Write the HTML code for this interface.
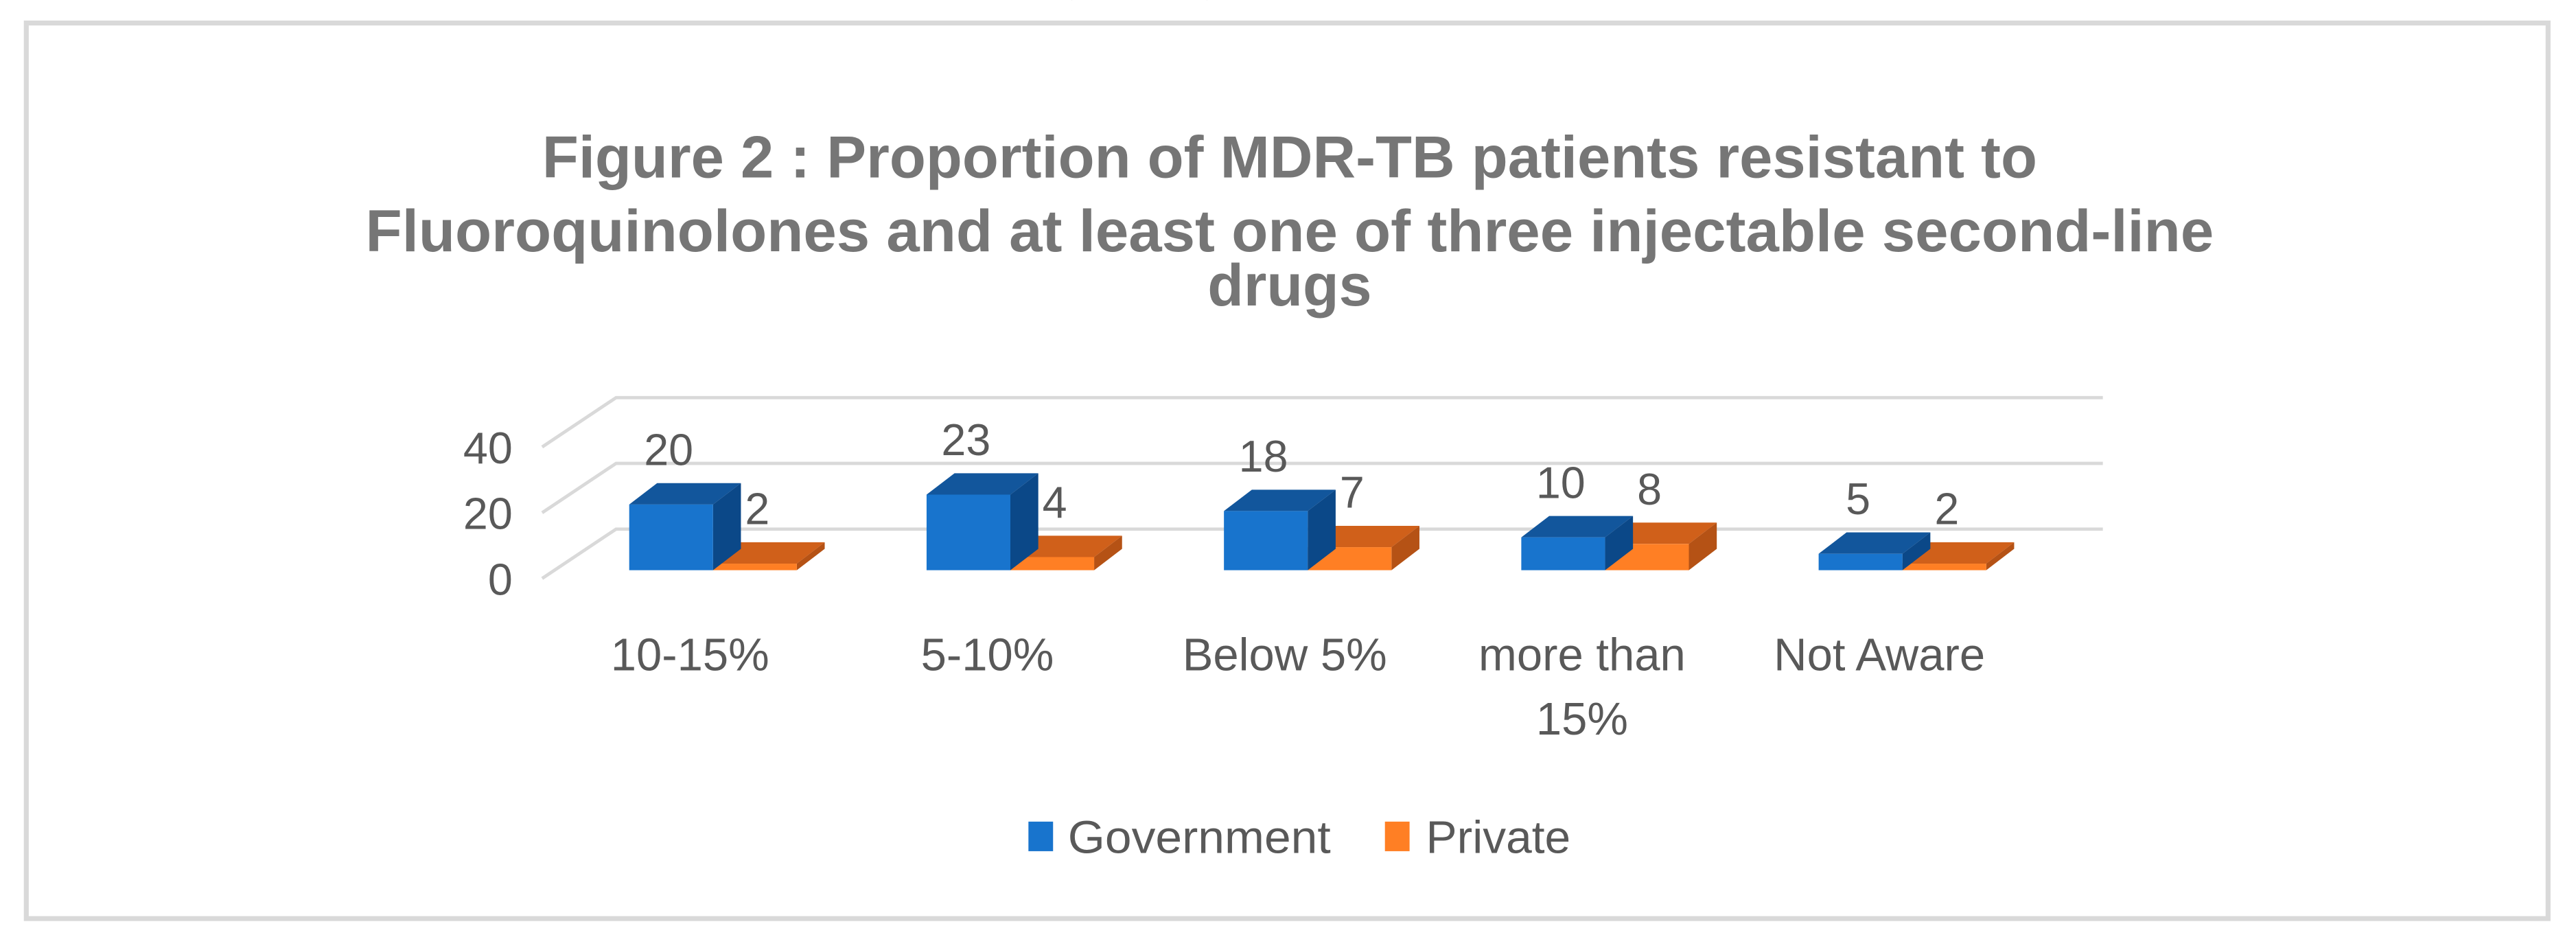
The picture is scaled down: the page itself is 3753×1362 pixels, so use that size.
<!DOCTYPE html>
<html><head><meta charset="utf-8"><style>
html,body{margin:0;padding:0;background:#fff;}
svg{display:block;}
text{font-family:"Liberation Sans",sans-serif;}
</style></head><body>
<svg id="chart" width="3753" height="1362" viewBox="0 0 1568 569" preserveAspectRatio="none" xmlns="http://www.w3.org/2000/svg">
<text x="330" y="-5" font-size="24" fill="#000" style="font-family:'Liberation Serif',serif">appropriate patient management (Figure 2)</text>
<rect x="16" y="14" width="1535" height="545" fill="#fff" stroke="#d9d9d9" stroke-width="3"/>
<g font-weight="bold" font-size="36" fill="#767676" text-anchor="middle">
<text x="785" y="108" textLength="910" lengthAdjust="spacingAndGlyphs">Figure 2 : Proportion of MDR-TB patients resistant to</text>
<text x="785" y="153" textLength="1125" lengthAdjust="spacingAndGlyphs">Fluoroquinolones and at least one of three injectable second-line</text>
<text x="785" y="186">drugs</text>
</g>
<g id="grid"></g>
<g id="bars"></g>
<g id="labels"></g>
<g font-size="28" fill="#595959">
<rect x="626" y="500" width="15" height="18" fill="#1874cd"/>
<text x="650" y="519" textLength="160" lengthAdjust="spacingAndGlyphs">Government</text>
<rect x="843" y="500" width="15" height="18" fill="#ff7f24"/>
<text x="868" y="519" textLength="88" lengthAdjust="spacingAndGlyphs">Private</text>
</g>
</svg>
<script>
const categories = [["10-15%"],["5-10%"],["Below 5%"],["more than","15%"],["Not Aware"]];
const government = [20, 23, 18, 10, 5];
const privateVals = [2, 4, 7, 8, 2];
const yTicks = [0, 20, 40];

const NS = "http://www.w3.org/2000/svg";
const front0 = 352, unit = 2, backDx = 45, backDy = -30;
const barBase = 347, bw = 51, dDx = 17, dDy = -13;
function yFront(v){ return front0 - v*unit; }
function groupX(i){ return 383 + i*181; }
function mk(tag, attrs, parent){ const e=document.createElementNS(NS,tag); for(const k in attrs) e.setAttribute(k,attrs[k]); parent.appendChild(e); return e; }

const grid = document.getElementById('grid');
yTicks.forEach(t=>{
  const y = yFront(t);
  const g = mk('g',{},grid);
  
  
  mk('polyline',{points:`330,${y} ${330+backDx},${y+backDy} 1280,${y+backDy}`,fill:'none',stroke:'#d9d9d9','stroke-width':2},g);
  const tx = mk('text',{x:312,y:y+10,'text-anchor':'end','font-size':27,fill:'#595959'},g);
  tx.textContent = t;
  
  
});

const bars = document.getElementById('bars');
const labels = document.getElementById('labels');
function bar(x, v, cols, name, labelDx){
  const h = v*unit, top = barBase - h;
  const g = mk('g',{},bars);
  
  
  mk('polygon',{points:`${x},${top} ${x+dDx},${top+dDy} ${x+bw+dDx},${top+dDy} ${x+bw},${top}`,fill:cols[1]},g);
  mk('polygon',{points:`${x+bw},${top} ${x+bw+dDx},${top+dDy} ${x+bw+dDx},${barBase+dDy} ${x+bw},${barBase}`,fill:cols[2]},g);
  mk('rect',{x:x,y:top,width:bw,height:h,fill:cols[0]},g);
  const t = mk('text',{x:x+labelDx,y:top-24,'text-anchor':'middle','font-size':27,fill:'#595959'},labels);
  t.textContent = v;
  
  
}
const gov = ['#1874cd','#12569c','#0b4888'];
const pri = ['#ff7f24','#d0601a','#b55215'];
categories.forEach((c,i)=>{
  const x = groupX(i);
  bar(x+bw, privateVals[i], pri, 'bar-private-'+i, 27);
  bar(x, government[i], gov, 'bar-government-'+i, 24);
  c.forEach((line,j)=>{
    const t = mk('text',{x:x+37,y:408+j*39,'text-anchor':'middle','font-size':28,fill:'#595959'},labels);
    t.textContent = line;
    
    
  });
});
</script>
</body></html>
